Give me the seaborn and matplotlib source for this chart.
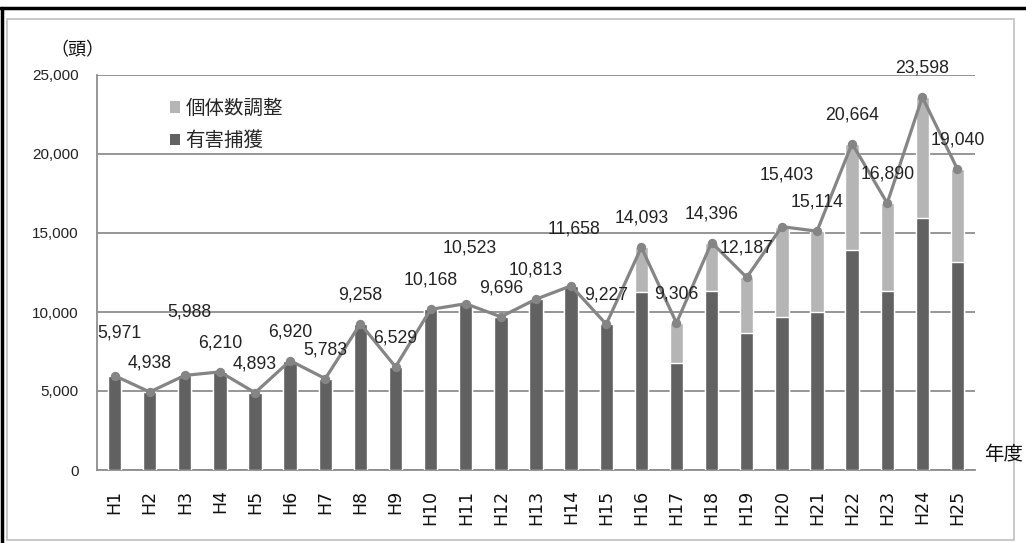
import matplotlib
matplotlib.use("Agg")
import matplotlib.pyplot as plt
from matplotlib.patches import Patch, Rectangle
from matplotlib.lines import Line2D
from matplotlib.ticker import FuncFormatter, MultipleLocator
import pandas as pd
import seaborn as sns

# 年度別 捕獲頭数
years = [f"H{i}" for i in range(1, 26)]
total = [5971, 4938, 5988, 6210, 4893, 6920, 5783, 9258, 6529, 10168,
         10523, 9696, 10813, 11658, 9227, 14093, 9306, 14396, 12187, 15403,
         15114, 20664, 16890, 23598, 19040]
harmful = [5971, 4938, 5988, 6210, 4893, 6920, 5783, 9258, 6529, 10168,
           10523, 9696, 10813, 11658, 9227, 11250, 6750, 11350, 8650, 9700,
           10020, 13920, 11350, 15930, 13150]
legend_labels = ["個体数調整", "有害捕獲"]

df = pd.DataFrame({"year": years, "total": total, "harmful": harmful})

# label nudges (pixels) - most labels sit ~29px above the point
label_nudge = {0: (5, 43), 2: (5, 63), 10: (4, 56), 13: (3, 57), 19: (5, 52)}

dark = "#616161"
light = "#b5b5b5"
line_c = "#858585"
grid_c = "#8e8e8e"

sns.set_theme(style="white")
plt.rcParams["font.family"] = ["Liberation Sans", "Noto Sans CJK JP"]

fig = plt.figure(figsize=(10.26, 5.43), dpi=100)
W, H = 1026, 543
ax = fig.add_axes([97 / W, (H - 470) / H, (975 - 97) / W, (470 - 75) / H])

sns.barplot(data=df, x="year", y="total", color=light, width=0.38,
            saturation=1, ax=ax, zorder=2)
sns.barplot(data=df, x="year", y="harmful", color=dark, width=0.38,
            saturation=1, ax=ax, zorder=3)
sns.pointplot(data=df, x="year", y="total", color=line_c, markers="o",
              markersize=5, linewidth=2.3, ax=ax, zorder=4)

for i, v in enumerate(total):
    dx, dy = label_nudge.get(i, (0, 29))
    ax.annotate(f"{v:,}", (i, v), xytext=(dx, dy), textcoords="offset pixels",
                ha="center", va="center", fontsize=12.7, color="#222222", zorder=5)

ax.set_xlim(-0.5, 24.5)
ax.set_ylim(0, 25000)
ax.yaxis.set_major_locator(MultipleLocator(5000))
ax.yaxis.set_major_formatter(FuncFormatter(lambda v, p: f"{int(v):,}"))
ax.grid(axis="y", color=grid_c, linewidth=1.3, zorder=0)
ax.set_axisbelow(True)
ax.set_xlabel("")
ax.set_ylabel("")

for s in ["top", "right"]:
    ax.spines[s].set_visible(False)
for s in ["left", "bottom"]:
    ax.spines[s].set_color(grid_c)
    ax.spines[s].set_linewidth(1.3)

ax.tick_params(axis="y", which="major", length=5, color=grid_c, width=1.3,
               labelsize=11, pad=8, labelcolor="#222222")
ax.set_xticks(range(len(years)))
ax.set_xticklabels(years, rotation=90, fontsize=12.5, family="DejaVu Sans",
                   color="#111111")
ax.set_xticks([i - 0.5 for i in range(len(years) + 1)], minor=True)
ax.tick_params(axis="x", which="major", length=0, pad=14)
ax.tick_params(axis="x", which="minor", length=6, color=grid_c, width=1.3,
               direction="out")

handles = [Patch(facecolor=light, edgecolor="none"),
           Patch(facecolor=dark, edgecolor="none")]
fig.legend(handles, legend_labels, loc="upper left",
           bbox_to_anchor=(160 / W, (H - 88) / H), frameon=False,
           handlelength=0.55, handleheight=0.55,
           handletextpad=0.25, labelspacing=0.6, borderpad=0,
           prop={"family": "Noto Sans CJK JP", "size": 14})

fig.text(50 / W, (H - 50) / H, "（頭）", fontsize=13, ha="left", va="center",
         family="Noto Sans CJK JP", color="#111111")
fig.text(984 / W, (H - 455) / H, "年度", fontsize=14, ha="left", va="center",
         family="Noto Sans CJK JP", color="#111111")

# chart frame and outer border
fig.add_artist(Rectangle((7 / W, (H - 540) / H), (1014 - 7) / W, (540 - 19) / H,
                         transform=fig.transFigure, fill=False,
                         edgecolor="#c4c4c4", linewidth=1.3))
fig.add_artist(Line2D([0, 1], [(H - 8) / H] * 2, transform=fig.transFigure,
                      color="black", linewidth=2.5))
fig.add_artist(Line2D([1.5 / W] * 2, [0, (H - 8) / H], transform=fig.transFigure,
                      color="black", linewidth=2.5))

fig.savefig("out.png", dpi=100)
